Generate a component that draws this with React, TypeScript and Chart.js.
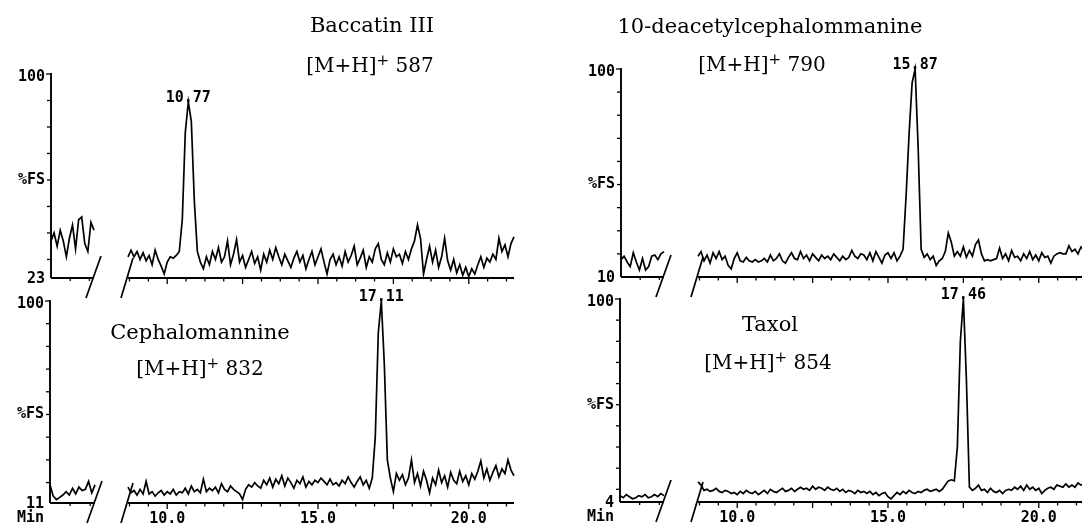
import React, { useEffect, useRef } from "react";
import { Chart, registerables } from "chart.js";

Chart.register(...registerables);

// ---------------- data ----------------
const COMPOUNDS = ["Baccatin III", "10-deacetylcephalommanine", "Cephalomannine", "Taxol"];
const ION_MZ = [587, 790, 832, 854];
const PEAK_LABELS = ["10.77", "15.87", "17.11", "17.46"];
const Y_MIN = [23, 10, 11, 4];
const Y_MAX = 100;
const X_TICK_LABELS = [10.0, 15.0, 20.0];
const MAIN_START_MIN = 8.7; // first sample of each main trace (min)
const SAMPLE_STEP_MIN = 0.1; // sampling interval (min)

// early (broken-axis) segment traces, %FS
const BACCATIN_EARLY = [37, 40, 35, 41, 37, 31, 38, 43, 34, 45, 46, 36, 33, 44, 41];
const DEACETYL_EARLY = [17.5, 19, 16.5, 14.5, 20.5, 16.5, 13, 18, 13, 14.5, 19, 19.5, 17.5, 20, 21];
const CEPHALO_EARLY = [19, 14, 12.5, 13.5, 14.5, 16, 14.5, 17.5, 15, 18, 16.5, 17, 20.5, 15.5, 19];
const TAXOL_EARLY = [7, 6, 7.5, 6.5, 5.5, 6, 7, 6.5, 7.5, 6, 6.5, 7.5, 6.5, 8, 7];

// main traces, 8.7 .. 21.5 min, %FS
const BACCATIN_MAIN = [
  31, 33.5, 31, 33, 30, 32.5, 29.5, 31.5, 28, 33.5,
  30, 27.5, 24.5, 29, 31, 30.5, 31.5, 33, 45, 78,
  89.5, 82, 52, 33, 29, 26.5, 31, 28, 33, 30,
  34.5, 29, 31, 37, 28, 32, 37.5, 29, 31.5, 27,
  30, 33, 28.5, 31, 26, 32, 29, 33.5, 30, 34.5,
  31, 28, 32, 29.5, 27, 30.5, 33, 29, 31.5, 26.5,
  30, 33, 28, 31, 34, 29, 24.5, 30, 32, 28,
  31, 27.5, 33, 29, 31.5, 35, 28, 30.5, 33.5, 27,
  31, 29, 34, 36, 30, 28, 32.5, 29, 34, 31,
  32, 28.5, 33, 30, 34, 37, 43, 38, 24.5, 30,
  35, 29, 33.5, 27, 31, 38, 29.5, 26, 30, 25,
  28, 24, 27, 23.5, 26.5, 24.5, 28, 31, 27, 30.5,
  29, 32, 30, 38, 33, 35.5, 31, 36, 38.5,
];
const DEACETYL_MAIN = [
  19, 21, 17, 19.5, 16, 20.5, 18, 21, 17.5, 19,
  15, 13.5, 18, 20.5, 17, 16.5, 18.5, 17, 16.5, 17.5,
  16.5, 17, 18, 16.5, 19.5, 17, 18, 20, 17, 16,
  18.5, 20.5, 18, 17.5, 21, 18, 19.5, 17, 20, 18.5,
  17, 19.5, 18, 19, 17.5, 20, 18.5, 17, 19, 17.5,
  18.5, 21.5, 19, 18, 20, 19.5, 17.5, 20.5, 17, 21,
  18.5, 16, 19.5, 20.5, 18, 20.5, 17, 19, 22, 45,
  72, 94, 100, 66, 22, 18.5, 20, 17.5, 19, 15,
  17, 18, 21, 29, 25, 19, 21, 19, 23, 18.5,
  21.5, 19, 24, 26, 20, 17, 17.5, 17, 17.5, 18,
  22.5, 18, 20, 17, 21.5, 18.5, 19, 17, 20, 18,
  21, 17.5, 19.5, 17, 20.5, 18.5, 19, 16, 19, 20,
  20.5, 20, 20, 23.5, 21, 22, 20, 23, 21.5,
];
const CEPHALO_MAIN = [
  18, 15.5, 16.5, 14.5, 17, 15, 20.5, 15, 16, 14,
  15.5, 16.5, 14.5, 16, 15, 17, 14.5, 16, 15.5, 17.5,
  15, 18.5, 16, 17, 15.5, 21.5, 16, 17.5, 16.5, 18,
  15.5, 19.5, 17, 16, 18.5, 17, 16, 15, 12.5, 17,
  19, 18, 20, 18.5, 17.5, 21, 19, 22, 18, 21.5,
  19.5, 23, 18.5, 22, 20, 17.5, 21, 19.5, 22.5, 18,
  20.5, 19, 21, 20, 22, 20.5, 19, 21.5, 19, 20,
  18.5, 21, 19.5, 22.5, 20, 18, 20.5, 22.5, 19, 21,
  17.5, 22, 40, 86, 100, 72, 30, 22, 16, 24,
  21, 23.5, 19, 22, 30, 20, 24, 18.5, 25, 21,
  15.5, 22, 19, 25.5, 20, 23, 18, 24.5, 21, 19.5,
  25, 20.5, 23, 19, 24, 21.5, 25, 29.5, 22, 26,
  21, 24.5, 27.5, 22.5, 26, 24, 30, 25.5, 23,
];
const TAXOL_MAIN = [
  13.5, 12, 9.5, 10, 9, 9.5, 10.5, 9, 8.5, 9.5,
  9, 8, 8.5, 7.5, 9, 8, 9.5, 8.5, 8, 9,
  7.5, 8.5, 9.5, 8, 10, 9, 8.5, 9.5, 10.5, 9,
  9.5, 10.5, 9, 10, 11, 10, 10.5, 9.5, 11.5, 10,
  11, 10.5, 9.5, 11, 10, 9.5, 10.5, 9, 10, 8.5,
  9.5, 9, 8, 9.5, 8.5, 9, 8, 9, 7.5, 8.5,
  7, 8, 8.5, 6.5, 5.5, 7, 8.5, 7.5, 9, 8,
  9.5, 8.5, 8, 9, 8.5, 9.5, 10, 9, 9.5, 10,
  9, 10, 12, 14, 14.5, 14, 30, 80, 100, 62,
  11, 9.5, 10.5, 12, 9.5, 10, 8.5, 10.5, 9, 8.5,
  9.5, 8, 9.5, 10, 9.5, 11, 10, 11.5, 9.5, 12,
  10, 11, 9.5, 10.5, 8, 9.5, 10.5, 11, 10, 12,
  11.5, 11, 12.5, 11, 12, 11, 13, 12, 12.5,
];

const EARLY_TRACES = [BACCATIN_EARLY, DEACETYL_EARLY, CEPHALO_EARLY, TAXOL_EARLY];
const MAIN_TRACES = [BACCATIN_MAIN, DEACETYL_MAIN, CEPHALO_MAIN, TAXOL_MAIN];

// ---------------- layout ----------------
const W = 1100;
const H = 527;
const MAIN_DOMAIN = [8.7, 21.5];
const EARLY_DOMAIN = [0, 1.4];

const PANELS = [
  { axisX: 51, earlyEnd: 94, mainStart: 128, mainEnd: 514, top: 74, bottom: 278, xLabels: false, fsAt: 60,
    title: { x: 372, y: 25 }, ion: { x: 370, y: 65 } },
  { axisX: 621, earlyEnd: 664, mainStart: 698, mainEnd: 1084, top: 69, bottom: 277, xLabels: false, fsAt: 50,
    title: { x: 770, y: 26 }, ion: { x: 762, y: 64 } },
  { axisX: 50, earlyEnd: 95, mainStart: 128, mainEnd: 514, top: 301, bottom: 503, xLabels: true, fsAt: 50,
    title: { x: 200, y: 332 }, ion: { x: 200, y: 368 } },
  { axisX: 620, earlyEnd: 664, mainStart: 698, mainEnd: 1084, top: 299, bottom: 502, xLabels: true, fsAt: 50,
    title: { x: 770, y: 324 }, ion: { x: 768, y: 362 } },
];

const MONO = "bold 15px 'DejaVu Sans Mono', monospace";
const INK = "#000";

function line(ctx: CanvasRenderingContext2D, x1: number, y1: number, x2: number, y2: number) {
  ctx.beginPath();
  ctx.moveTo(x1, y1);
  ctx.lineTo(x2, y2);
  ctx.stroke();
}

function decorPlugin(panelIdx: number, kind: "early" | "main") {
  const p = PANELS[panelIdx];
  return {
    id: "decor" + kind + panelIdx,
    afterDatasetsDraw(chart: any) {
      const ctx: CanvasRenderingContext2D = chart.ctx;
      const xs = chart.scales.x;
      const ys = chart.scales.y;
      const { left, right, top, bottom } = chart.chartArea;
      ctx.save();
      ctx.strokeStyle = INK;
      ctx.fillStyle = INK;
      ctx.lineWidth = 1.9;
      ctx.lineCap = "butt";
      ctx.font = MONO;
      // baseline
      line(ctx, left, bottom, right, bottom);
      if (kind === "early") {
        // y axis
        line(ctx, left, top - 1, left, bottom);
        ctx.lineWidth = 1.3;
        for (let v = Y_MAX; v > Y_MIN[panelIdx] + 2; v -= 10) {
          const y = ys.getPixelForValue(v);
          line(ctx, left - (v === Y_MAX ? 5 : 4), y, left, y);
        }
        // small x ticks
        [0.625, 1.25].forEach((t) => {
          const x = xs.getPixelForValue(t);
          line(ctx, x, bottom, x, bottom + 3);
        });
        ctx.textAlign = "right";
        ctx.textBaseline = "middle";
        ctx.fillText(String(Y_MAX), left - 6, top + 3);
        ctx.fillText("%FS", left - 6, ys.getPixelForValue(p.fsAt));
        ctx.fillText(String(Y_MIN[panelIdx]), left - 6, bottom + 1);
        if (p.xLabels) ctx.fillText("Min", left - 6, bottom + 15);
        // break mark
        ctx.lineWidth = 1.7;
        line(ctx, right - 8, bottom + 20, right + 7, bottom - 22);
      } else {
        ctx.lineWidth = 1.3;
        for (let t = 8.75; t <= MAIN_DOMAIN[1] + 1e-6; t += 0.625) {
          const x = xs.getPixelForValue(t);
          const q = (t - 10) / 2.5;
          const major = Math.abs(q - Math.round(q)) < 1e-6;
          line(ctx, x, bottom, x, bottom + (major ? 6 : 3.5));
        }
        ctx.lineWidth = 1.7;
        line(ctx, left - 7, bottom + 20, left + 5, bottom - 20);
        if (p.xLabels) {
          ctx.textAlign = "center";
          ctx.textBaseline = "middle";
          X_TICK_LABELS.forEach((t) => {
            ctx.fillText(t.toFixed(1), xs.getPixelForValue(t), bottom + 16);
          });
        }
        // peak label
        const data = chart.data.datasets[0].data as { x: number; y: number }[];
        let best = data[0];
        data.forEach((d) => {
          if (d.y > best.y) best = d;
        });
        const px = xs.getPixelForValue(best.x);
        const py = ys.getPixelForValue(best.y);
        ctx.textAlign = "center";
        ctx.textBaseline = "bottom";
        ctx.fillText(PEAK_LABELS[panelIdx], px, py + 4);
      }
      ctx.restore();
    },
  };
}

function Segment({ panelIdx, kind }: { panelIdx: number; kind: "early" | "main" }) {
  const ref = useRef<HTMLCanvasElement>(null);
  useEffect(() => {
    const p = PANELS[panelIdx];
    const x0 = kind === "early" ? p.axisX : p.mainStart;
    const x1 = kind === "early" ? p.earlyEnd : p.mainEnd;
    const domain = kind === "early" ? EARLY_DOMAIN : MAIN_DOMAIN;
    const values = kind === "early" ? EARLY_TRACES[panelIdx] : MAIN_TRACES[panelIdx];
    const start = kind === "early" ? 0 : MAIN_START_MIN;
    const pts = values.map((v, i) => ({ x: +(start + i * SAMPLE_STEP_MIN).toFixed(2), y: v }));
    const chart = new Chart(ref.current as HTMLCanvasElement, {
      type: "line",
      data: {
        datasets: [
          {
            data: pts,
            borderColor: INK,
            borderWidth: 1.7,
            pointRadius: 0,
            tension: 0,
            fill: false,
            clip: false as any,
          },
        ],
      },
      options: {
        animation: false,
        responsive: false,
        maintainAspectRatio: false,
        devicePixelRatio: 1,
        events: [],
        layout: { padding: { left: x0, right: W - x1, top: p.top, bottom: H - p.bottom } },
        scales: {
          x: { type: "linear", min: domain[0], max: domain[1], display: false },
          y: { type: "linear", min: Y_MIN[panelIdx], max: Y_MAX, display: false },
        },
        plugins: { legend: { display: false }, tooltip: { enabled: false }, title: { display: false } },
      },
      plugins: [decorPlugin(panelIdx, kind)],
    } as any);
    return () => chart.destroy();
  }, [panelIdx, kind]);
  return (
    <canvas
      ref={ref}
      width={W}
      height={H}
      style={{ position: "absolute", left: 0, top: 0, width: W, height: H }}
    />
  );
}

const serif: React.CSSProperties = {
  position: "absolute",
  transform: "translate(-50%, -50%)",
  whiteSpace: "nowrap",
  fontFamily: "'DejaVu Serif', serif",
  fontSize: 21,
  lineHeight: 1,
  color: "#000",
};

export default function App() {
  return (
    <div
      style={{
        position: "fixed",
        left: 0,
        top: 0,
        width: 1082,
        height: 527,
        overflow: "hidden",
        background: "#fff",
      }}
    >
      {PANELS.map((p, i) => (
        <React.Fragment key={i}>
          <Segment panelIdx={i} kind="early" />
          <Segment panelIdx={i} kind="main" />
          <div style={{ ...serif, left: p.title.x, top: p.title.y }}>{COMPOUNDS[i]}</div>
          <div style={{ ...serif, fontSize: 20, left: p.ion.x, top: p.ion.y }}>
            [M+H]
            <sup style={{ fontSize: "0.75em", verticalAlign: "0.45em", lineHeight: 0 }}>+</sup> {ION_MZ[i]}
          </div>
        </React.Fragment>
      ))}
    </div>
  );
}
